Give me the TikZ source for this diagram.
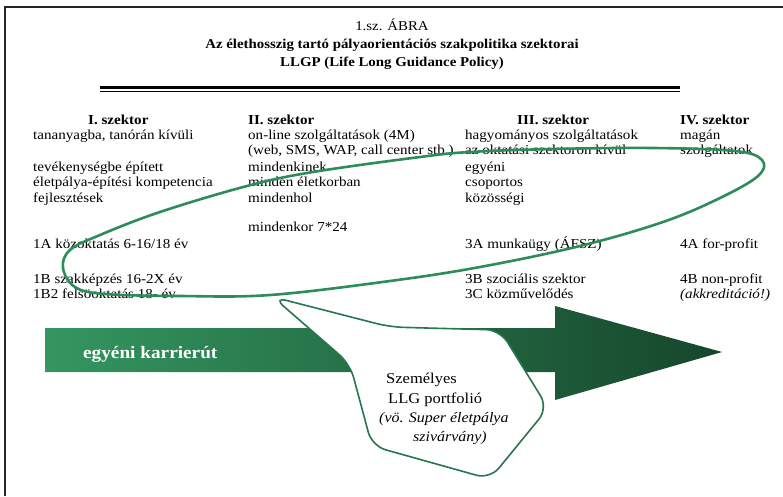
\documentclass[tikz,border=0pt]{standalone}
\usepackage{fontspec}
\setmainfont{Liberation Serif}[FakeStretch=1.1]
\definecolor{loopgreen}{RGB}{45,140,90}
\definecolor{bubblegreen}{RGB}{40,118,78}
\definecolor{barlight}{RGB}{52,150,96}
\definecolor{bardark}{RGB}{22,70,44}
\begin{document}
\begin{tikzpicture}[x=1pt,y=-1pt,
  body/.style={anchor=base west,inner sep=0pt,font=\fontsize{13.7}{15}\selectfont},
  head/.style={body,font=\fontsize{13.7}{15}\selectfont\bfseries},
  title/.style={anchor=base,inner sep=0pt,font=\fontsize{13.5}{15}\selectfont},
  bubtext/.style={anchor=base west,inner sep=0pt,font=\fontsize{15}{18}\selectfont},
  bubital/.style={anchor=base west,inner sep=0pt,font=\fontsize{14.5}{17}\selectfont\itshape}]
\useasboundingbox (0,0) rectangle (783,496);
\fill[white] (0,0) rectangle (783,496);

% page frame (top and left edges)
\draw[line width=2.2pt,black!85] (5,496) -- (5,7) -- (783,7);

% heading
\node[title] (t1) at (392,30) {1.sz. ÁBRA};
\node[title,font=\fontsize{13.5}{15}\selectfont\bfseries] (t2) at (392,48) {Az élethosszig tartó pályaorientációs szakpolitika szektorai};
\node[title,font=\fontsize{13.5}{15}\selectfont\bfseries] (t3) at (392,66) {LLGP (Life Long Guidance Policy)};
\draw[line width=3pt] (100,87) -- (680,87);
\draw[line width=1pt] (100,91.5) -- (680,91.5);

% career arrow
\shade[left color=barlight,right color=bardark]
  (45,328) -- (555,328) -- (555,306) -- (722,352) -- (555,400) -- (555,372) -- (45,372) -- cycle;
\node[anchor=base west,inner sep=0pt,text=white,font=\fontsize{17.5}{20}\selectfont\bfseries] (career) at (83,358) {egyéni karrierút};

% sector I
\node[head] (s1) at (88,124) {I. szektor};
\node[body] (s1a) at (33,139) {tananyagba, tanórán kívüli};
\node[body] (s1b) at (33,171) {tevékenységbe épített};
\node[body] (s1c) at (33,186) {életpálya-építési kompetencia};
\node[body] (s1d) at (33,202) {fejlesztések};
\node[body] (s1e) at (33,248) {1A közoktatás 6-16/18 év};
\node[body] (s1f) at (33,283) {1B szakképzés 16-2X év};
\node[body] (s1g) at (33,298) {1B2 felsöoktatás 18- év};

% sector II
\node[head] (s2) at (248,124) {II. szektor};
\node[body] (s2a) at (248,139) {on-line szolgáltatások (4M)};
\node[body] (s2b) at (248,154) {(web, SMS, WAP, call center stb.)};
\node[body] (s2c) at (248,171) {mindenkinek};
\node[body] (s2d) at (248,186) {minden életkorban};
\node[body] (s2e) at (248,202) {mindenhol};
\node[body] (s2f) at (248,231) {mindenkor 7*24};

% sector III
\node[head] (s3) at (517,124) {III. szektor};
\node[body] (s3a) at (465,139) {hagyományos szolgáltatások};
\node[body] (s3b) at (465,154) {az oktatási szektoron kívül};
\node[body] (s3c) at (465,171) {egyéni};
\node[body] (s3d) at (465,186) {csoportos};
\node[body] (s3e) at (465,202) {közösségi};
\node[body] (s3f) at (465,248) {3A munkaügy (ÁFSZ)};
\node[body] (s3g) at (465,283) {3B szociális szektor};
\node[body] (s3h) at (465,298) {3C közművelődés};

% sector IV
\node[head] (s4) at (680,124) {IV. szektor};
\node[body] (s4a) at (680,139) {magán};
\node[body] (s4b) at (680,154) {szolgáltatok};
\node[body] (s4c) at (680,248) {4A for-profit};
\node[body] (s4d) at (680,283) {4B non-profit};
\node[body,font=\fontsize{13.7}{15}\selectfont\itshape] (s4e) at (680,298) {(akkreditáció!)};

% loop around the sectors
\draw[loopgreen,line width=2.6pt] plot[smooth cycle,tension=0.6] coordinates {
  (63,268) (75,287) (105,294) (180,296) (270,295) (390,281) (480,267)
  (580,246) (663,222) (720,198) (758,176) (762,160) (735,151) (653,148)
  (553,149) (470,152) (420,157) (313,172) (247,186) (160,212) (100,235) (70,250)};

% speech bubble
\filldraw[fill=white,draw=bubblegreen,line width=1.6pt,rounded corners=14pt]
  (273,297) -- (390,327) -- (500,330) -- (548,408) -- (490,479) -- (372,446) -- (350,364) -- cycle;
\node[bubtext] (b1) at (386,383) {Személyes};
\node[bubtext] (b2) at (388,403) {LLG portfolió};
\node[bubital] (b3) at (379,422) {(vö. Super életpálya};
\node[bubital] (b4) at (413,441) {szivárvány)};
\end{tikzpicture}
\end{document}
